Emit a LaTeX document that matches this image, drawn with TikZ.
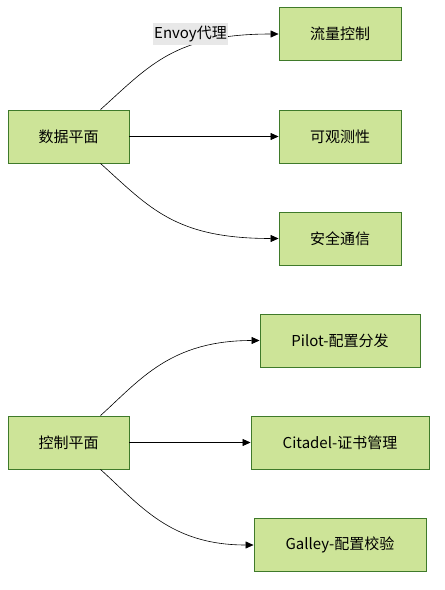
\documentclass[tikz,border=0pt]{standalone}
\usepackage{fontspec}
\setmainfont{Noto Sans CJK SC}
\usepackage{tikz}
\usetikzlibrary{arrows.meta}
\definecolor{boxfill}{HTML}{CDE498}
\definecolor{boxline}{HTML}{3F7A2A}
\definecolor{lblfill}{HTML}{E8E8E8}
\tikzset{
  box/.style={draw=boxline,fill=boxfill,line width=0.9pt,minimum height=53pt,inner sep=0pt,font=\fontsize{15}{18}\selectfont},
  lbl/.style={fill=lblfill,inner sep=1pt,minimum height=22pt,font=\fontsize{15}{18}\selectfont}
}
\begin{document}
\begin{tikzpicture}[x=1pt,y=-1pt,->,>={Triangle[length=8pt,width=7pt]},line width=0.6pt]
    \useasboundingbox (0,0) rectangle (445,590);
    % data plane
    \node [box,minimum width=121pt] (dp) at (68.5,136.5) {数据平面};
    \node [box,minimum width=122pt] (flow) at (340,34) {流量控制};
    \node [box,minimum width=122pt] (obs) at (340,136.5) {可观测性};
    \node [box,minimum width=122pt] (sec) at (340,238.5) {安全通信};
    \draw ([xshift=32pt]dp.north) .. controls (150,65) and (175,34) .. (flow.west);
    \node [lbl] (envoy) at (190.5,34) {Envoy代理};
    \draw (dp.east)--(obs.west);
    \draw ([xshift=32pt]dp.south) .. controls (150,208) and (175,238.5) .. (sec.west);
    % control plane
    \node [box,minimum width=121pt] (cp) at (68.5,442.5) {控制平面};
    \node [box,minimum width=160pt] (pilot) at (340,340.5) {Pilot-配置分发};
    \node [box,minimum width=178pt] (citadel) at (340,442.5) {Citadel-证书管理};
    \node [box,minimum width=172pt] (galley) at (340,545) {Galley-配置校验};
    \draw ([xshift=32pt]cp.north) .. controls (140,380) and (170,340.5) .. (pilot.west);
    \draw (cp.east)--(citadel.west);
    \draw ([xshift=32pt]cp.south) .. controls (140,505) and (170,545) .. (galley.west);
  \end{tikzpicture}
\end{document}
